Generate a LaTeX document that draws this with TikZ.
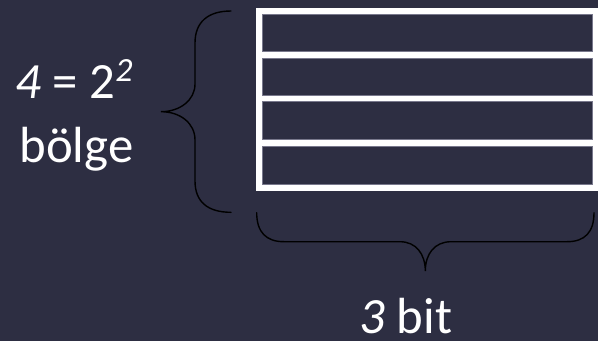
\documentclass[tikz,border=0pt]{standalone}
\usepackage{fontspec}
\setmainfont{Carlito}
\definecolor{bgnavy}{RGB}{45,46,66}
\definecolor{rowedge}{RGB}{120,120,140}
\begin{document}
\begin{tikzpicture}[x=1bp,y=-1bp,
  bigtext/.style={text=white,inner sep=0pt,font=\fontsize{51}{61}\selectfont},
  bracestroke/.style={draw=black,line width=1.4bp,line cap=round},
  rowbox/.style={fill=bgnavy,draw=rowedge,line width=0.5bp}]
\fill[bgnavy] (0,0) rectangle (598,341);
\useasboundingbox (0,0) rectangle (598,341);
% frame
\fill[white] (256,8) rectangle (598,191);
\draw[rowbox] (262.3,14) rectangle (592.7,51.7);
\draw[rowbox] (262.3,58) rectangle (592.7,95.3);
\draw[rowbox] (262.3,101.7) rectangle (592.7,139.3);
\draw[rowbox] (262.3,146) rectangle (592.7,184);
% left brace
\coordinate (lt) at (231,11);
\coordinate (lm) at (161,111.7);
\coordinate (lb) at (231,212.3);
\draw[bracestroke] (lt) .. controls (208,11) and (195,22) .. (195,43)
  -- (195,84) .. controls (195,100) and (180,111.7) .. (lm)
  .. controls (180,111.7) and (195,123) .. (195,140)
  -- (195,181) .. controls (195,202) and (208,212.3) .. (lb);
% bottom brace
\coordinate (bl) at (256.7,212.7);
\coordinate (bm) at (425.3,271);
\coordinate (br) at (594,212.7);
\draw[bracestroke] (bl) .. controls (256.7,232) and (266,241.7) .. (284,241.7)
  -- (400,241.7) .. controls (416,241.7) and (425.3,254) .. (bm)
  .. controls (425.3,254) and (434.6,241.7) .. (451,241.7)
  -- (567,241.7) .. controls (585,241.7) and (594,232) .. (br);
% labels
\node[bigtext,anchor=base] (eq) at (74,98) {{\itshape 4} = 2\raisebox{0.33em}{\fontsize{34}{34}\selectfont\itshape 2}};
\node[bigtext,anchor=base] (bolge) at (76.5,162) {bölge};
\node[bigtext,anchor=base] (bits) at (406,333.5) {{\itshape 3} bit};
\end{tikzpicture}
\end{document}
